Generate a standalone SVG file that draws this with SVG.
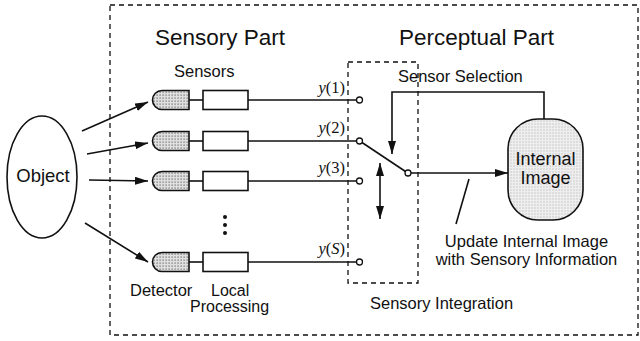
<svg xmlns="http://www.w3.org/2000/svg" width="640" height="341" viewBox="0 0 640 341">
  <defs>
    <pattern id="dots" width="3" height="3" patternUnits="userSpaceOnUse">
      <rect width="3" height="3" fill="#e0e0e0"/>
      <rect x="0.5" y="0.5" width="1.2" height="1.2" fill="#666"/>
    </pattern>
    <pattern id="dotsLight" width="3" height="3" patternUnits="userSpaceOnUse">
      <rect width="3" height="3" fill="#eeeeee"/>
      <rect x="0.5" y="0.5" width="1" height="1" fill="#aaa"/>
    </pattern>
    <marker id="arrow" viewBox="0 0 13 8" refX="13" refY="4" markerWidth="13" markerHeight="8" markerUnits="userSpaceOnUse" orient="auto-start-reverse">
      <path d="M0,0 L13,4 L0,8 Z" fill="#111"/>
    </marker>
    <path id="detector" d="M189,-9.5 H162 A9.5,9.5 0 0 0 162,9.5 H189 Z"/>
  </defs>
  <style>
    .ln { stroke: #111; stroke-width: 1.6; fill: none; }
    .dash { stroke: #111; stroke-width: 1.3; fill: none; stroke-dasharray: 5 4; }
    .det { fill: url(#dots); stroke: #111; stroke-width: 1.6; }
    .box { fill: #fff; stroke: #111; stroke-width: 1.6; }
    .term { fill: #fff; stroke: #111; stroke-width: 1.3; }
    .sans { font-family: "Liberation Sans", Arial, sans-serif; fill: #111; }
    .title { font-size: 22.5px; }
    .lbl { font-size: 16.5px; }
    .ser { font-family: "Liberation Serif", "Times New Roman", serif; font-size: 16.5px; fill: #111; }
  </style>
  <rect width="640" height="341" fill="#fff"/>

  <!-- frames -->
  <rect id="system-frame" class="dash" x="110" y="5" width="528" height="330"/>
  <rect id="integration-frame" class="dash" x="348" y="62" width="70" height="221"/>

  <text class="sans title" x="155" y="45">Sensory Part</text>
  <text class="sans title" x="399" y="45">Perceptual Part</text>
  <text class="sans lbl" x="174" y="77">Sensors</text>
  <text class="sans lbl" x="398" y="82">Sensor Selection</text>
  <text class="sans lbl" x="370" y="309">Sensory Integration</text>

  <!-- object -->
  <g id="object">
    <ellipse cx="42" cy="177" rx="35" ry="61" fill="#fff" stroke="#111" stroke-width="1.6"/>
    <text class="sans" font-size="18.5" x="43" y="182" text-anchor="middle">Object</text>
  </g>

  <!-- sensor channels -->
  <g id="sensor-1" transform="translate(0,100)">
    <use href="#detector" class="det"/>
    <line class="ln" x1="189" y1="0" x2="203" y2="0"/>
    <rect class="box" x="203" y="-9.5" width="45" height="19"/>
    <line class="ln" x1="248" y1="0" x2="356" y2="0"/>
    <circle class="term" cx="359.5" cy="0" r="3"/>
    <text class="ser" x="345" y="-7" text-anchor="end"><tspan font-style="italic">y</tspan>(1)</text>
  </g>
  <g id="sensor-2" transform="translate(0,141)">
    <use href="#detector" class="det"/>
    <line class="ln" x1="189" y1="0" x2="203" y2="0"/>
    <rect class="box" x="203" y="-9.5" width="45" height="19"/>
    <line class="ln" x1="248" y1="0" x2="356" y2="0"/>
    <text class="ser" x="345" y="-8" text-anchor="end"><tspan font-style="italic">y</tspan>(2)</text>
  </g>
  <g id="sensor-3" transform="translate(0,181)">
    <use href="#detector" class="det"/>
    <line class="ln" x1="189" y1="0" x2="203" y2="0"/>
    <rect class="box" x="203" y="-9.5" width="45" height="19"/>
    <line class="ln" x1="248" y1="0" x2="356" y2="0"/>
    <circle class="term" cx="359.5" cy="0" r="3"/>
    <text class="ser" x="345" y="-8" text-anchor="end"><tspan font-style="italic">y</tspan>(3)</text>
  </g>
  <g id="sensor-dots" fill="#111">
    <circle cx="225" cy="217" r="2"/>
    <circle cx="225" cy="225" r="2"/>
    <circle cx="225" cy="233" r="2"/>
  </g>
  <g id="sensor-S" transform="translate(0,262)">
    <use href="#detector" class="det"/>
    <line class="ln" x1="189" y1="0" x2="203" y2="0"/>
    <rect class="box" x="203" y="-9.5" width="45" height="19"/>
    <line class="ln" x1="248" y1="0" x2="356" y2="0"/>
    <circle class="term" cx="359.5" cy="0" r="3"/>
    <text class="ser" x="345" y="-8" text-anchor="end"><tspan font-style="italic">y</tspan>(<tspan font-style="italic">S</tspan>)</text>
    <text class="sans lbl" x="130" y="34">Detector</text>
    <text class="sans" font-size="16"><tspan x="211" y="33.5">Local</tspan><tspan x="190" y="50">Processing</tspan></text>
  </g>

  <!-- internal image -->
  <g id="internal-image">
    <rect x="508" y="119" width="75" height="101" rx="30" ry="30" fill="url(#dotsLight)" stroke="#111" stroke-width="1.6"/>
    <text class="sans" font-size="18" x="545.5" y="165" text-anchor="middle">Internal</text>
    <text class="sans" font-size="18" x="545.5" y="184" text-anchor="middle">Image</text>
  </g>

  <g id="update-note">
    <text class="sans lbl"><tspan x="526.5" y="247" text-anchor="middle">Update Internal Image</tspan><tspan x="526.5" y="265" text-anchor="middle">with Sensory Information</tspan></text>
  </g>

  <!-- connectors -->
  <g id="connectors">
    <line class="ln" x1="82" y1="131" x2="148" y2="102" marker-end="url(#arrow)"/>
    <line class="ln" x1="87" y1="154" x2="148" y2="143" marker-end="url(#arrow)"/>
    <line class="ln" x1="89" y1="180" x2="148" y2="181" marker-end="url(#arrow)"/>
    <line class="ln" x1="85" y1="223" x2="148" y2="262" marker-end="url(#arrow)"/>
    <!-- switch arm -->
    <line class="ln" x1="362" y1="142.5" x2="405.5" y2="171.5"/>
    <circle class="term" cx="359.5" cy="141" r="3"/>
    <circle class="term" cx="408" cy="173" r="3"/>
    <line class="ln" x1="411" y1="173" x2="508" y2="173" marker-end="url(#arrow)"/>
    <!-- selection feedback -->
    <polyline class="ln" points="544,119 544,92 392,92 392,154" marker-end="url(#arrow)"/>
    <!-- switch travel -->
    <line class="ln" x1="380" y1="163" x2="380" y2="219" marker-start="url(#arrow)" marker-end="url(#arrow)"/>
    <!-- note leader -->
    <line class="ln" x1="469" y1="179" x2="456" y2="224"/>
  </g>
</svg>
